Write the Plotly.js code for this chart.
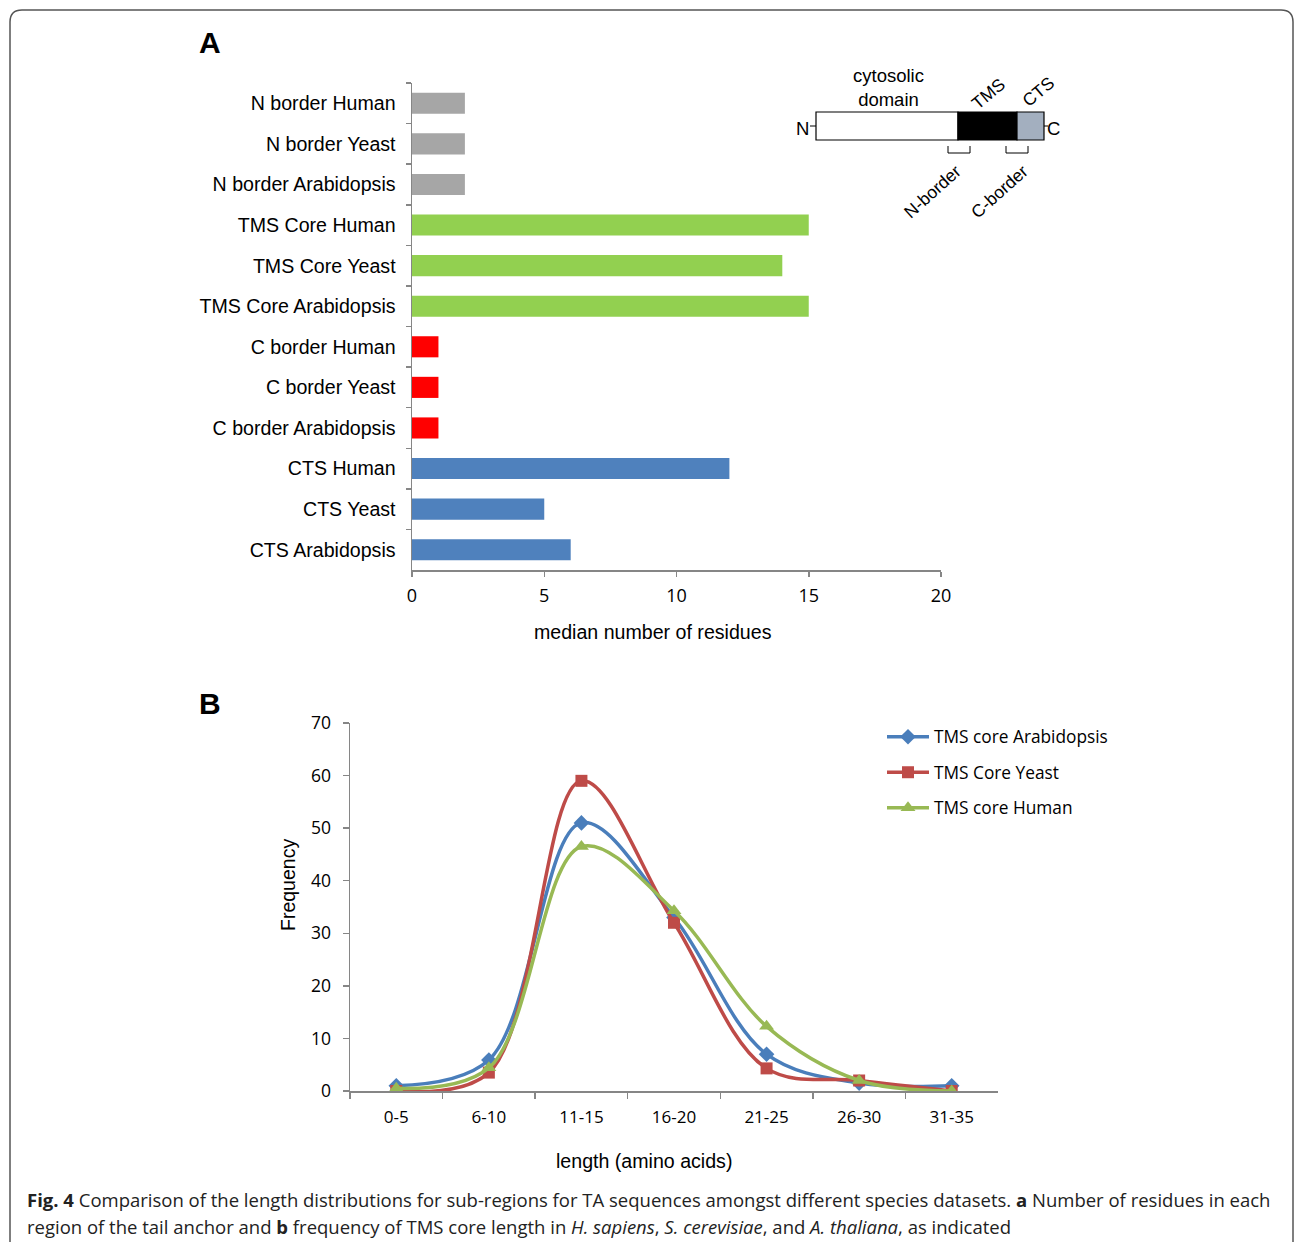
<!DOCTYPE html>
<html><head><meta charset="utf-8">
<script src="https://cdn.plot.ly/plotly-3.0.1.min.js"></script>
<style>body{margin:0;background:#fff}#chart{width:1295px;height:1242px}</style>
</head><body><div id="chart"></div>
<script>
// ---------- Panel A data ----------
const regionCategories = ["N border Human","N border Yeast","N border Arabidopsis",
  "TMS Core Human","TMS Core Yeast","TMS Core Arabidopsis",
  "C border Human","C border Yeast","C border Arabidopsis",
  "CTS Human","CTS Yeast","CTS Arabidopsis"];
const nBorderLabels = ["N border Human","N border Yeast","N border Arabidopsis"];
const nBorderValues = [2,2,2];
const tmsCoreLabels = ["TMS Core Human","TMS Core Yeast","TMS Core Arabidopsis"];
const tmsCoreValues = [15,14,15];
const cBorderLabels = ["C border Human","C border Yeast","C border Arabidopsis"];
const cBorderValues = [1,1,1];
const ctsLabels = ["CTS Human","CTS Yeast","CTS Arabidopsis"];
const ctsValues = [12,5,6];
const residueTicks = [0,5,10,15,20];

// ---------- Panel B data ----------
const lengthBins = ["0-5","6-10","11-15","16-20","21-25","26-30","31-35"];
const freqArabidopsis = [1,5.9,51,33,7,1.5,1];
const freqYeast = [0,3.5,59,32,4.3,2,0];
const freqHuman = [0.5,4.4,46.5,34.3,12.3,2,0];
const frequencyTicks = [0,10,20,30,40,50,60,70];

const W = 1295, H = 1242;
const px = x => x / W;
const py = y => 1 - y / H;
const AX = "#868686";
const FA = "Liberation Sans, Arial, sans-serif";
const FC = "Open Sans, sans-serif";

function bar(labels, vals, color) {
  return {type:"bar", orientation:"h", y:labels, x:vals, width:0.52,
    marker:{color:color}, xaxis:"x", yaxis:"y", showlegend:false, hoverinfo:"x+y"};
}
function line(vals, name, color, symbol, size, group) {
  return {type:"scatter", mode:"lines+markers", x:lengthBins, y:vals, name:name,
    line:{color:color, width:3.5, shape:"spline", smoothing:1},
    marker:{color:color, symbol:symbol, size:size},
    xaxis:"x2", yaxis:"y2", legendgroup:group};
}

const data = [
  bar(nBorderLabels, nBorderValues, "#a6a6a6"),
  bar(tmsCoreLabels, tmsCoreValues, "#92d050"),
  bar(cBorderLabels, cBorderValues, "#ff0000"),
  bar(ctsLabels, ctsValues, "#4f81bd"),
  line(freqArabidopsis, "TMS core Arabidopsis", "#4a7ebb", "diamond", 12, "a"),
  line(freqYeast, "TMS Core Yeast", "#be4b48", "square", 12, "b"),
  line(freqHuman, "TMS core Human", "#98b954", "triangle-up", 13, "c")
];

const shapes = [
  // outer rounded border
  {type:"path", xref:"paper", yref:"paper",
   path:`M ${px(10)} ${py(1260)} L ${px(10)} ${py(22)} Q ${px(10)} ${py(10)} ${px(22)} ${py(10)} L ${px(1281)} ${py(10)} Q ${px(1293)} ${py(10)} ${px(1293)} ${py(22)} L ${px(1293)} ${py(1260)}`,
   line:{color:"#555", width:1.5}},
  // protein diagram
  {type:"rect", xref:"paper", yref:"paper", x0:px(816), x1:px(958), y0:py(112), y1:py(140), fillcolor:"#fff", line:{color:"#000", width:1.2}},
  {type:"rect", xref:"paper", yref:"paper", x0:px(958), x1:px(1017), y0:py(112), y1:py(140), fillcolor:"#000", line:{color:"#000", width:1.2}},
  {type:"rect", xref:"paper", yref:"paper", x0:px(1017), x1:px(1044), y0:py(112), y1:py(140), fillcolor:"#a3afbf", line:{color:"#000", width:1.2}},
  {type:"line", xref:"paper", yref:"paper", x0:px(810), x1:px(816), y0:py(126), y1:py(126), line:{color:"#000", width:1}},
  {type:"line", xref:"paper", yref:"paper", x0:px(1044), x1:px(1048), y0:py(126), y1:py(126), line:{color:"#000", width:1}},
  {type:"path", xref:"paper", yref:"paper", path:`M ${px(948)} ${py(146)} L ${px(948)} ${py(153)} L ${px(970)} ${py(153)} L ${px(970)} ${py(146)}`, line:{color:"#000", width:1}},
  {type:"path", xref:"paper", yref:"paper", path:`M ${px(1006)} ${py(146)} L ${px(1006)} ${py(153)} L ${px(1028)} ${py(153)} L ${px(1028)} ${py(146)}`, line:{color:"#000", width:1}}
];

function ann(text, x, y, size, opts) {
  return Object.assign({xref:"paper", yref:"paper", x:px(x), y:py(y), text:text,
    showarrow:false, xanchor:"center", yanchor:"middle",
    font:{family:FA, size:size, color:"#000"}}, opts || {});
}

const annotations = [
  ann("<b>A</b>", 210, 42, 30),
  ann("<b>B</b>", 210, 703, 30),
  ann("median number of residues", 653, 632, 19.6),
  ann("length (amino acids)", 644, 1161, 19.6),
  ann("Frequency", 288, 885, 19.5, {textangle:-90}),
  ann("cytosolic<br>domain", 888, 88, 18.5),
  ann("N", 802, 128, 18.5),
  ann("C", 1053, 128, 18.5),
  ann("TMS", 988, 94, 17.5, {textangle:-40}),
  ann("CTS", 1038, 92, 17.5, {textangle:-40}),
  ann("N-border", 932, 192, 17.5, {textangle:-42}),
  ann("C-border", 999, 192, 17.5, {textangle:-42}),
  ann("<b>Fig. 4</b> Comparison of the length distributions for sub-regions for TA sequences amongst different species datasets. <b>a</b> Number of residues in each",
      25, 1199, 18.5, {xanchor:"left", font:{family:FC, size:18.5, color:"#222"}}),
  ann("region of the tail anchor and <b>b</b> frequency of TMS core length in <i>H. sapiens</i>, <i>S. cerevisiae</i>, and <i>A. thaliana</i>, as indicated",
      25, 1226, 18.5, {xanchor:"left", font:{family:FC, size:18.5, color:"#222"}})
];

const layout = {
  width: W, height: H,
  margin:{l:0, r:0, t:0, b:0},
  paper_bgcolor:"#fff", plot_bgcolor:"rgba(0,0,0,0)",
  barmode:"overlay",
  showlegend:true,
  legend:{x:px(882), y:py(719), xanchor:"left", yanchor:"top",
    font:{family:FC, size:17.3, color:"#000"}, itemwidth:42,
    traceorder:"grouped", tracegroupgap:10, bgcolor:"rgba(0,0,0,0)"},
  xaxis:{domain:[px(412), px(941)], anchor:"y", range:[0,20], tickvals:residueTicks,
    showgrid:false, zeroline:false, showline:true, linecolor:AX, linewidth:1.5,
    ticks:"outside", ticklen:5, tickcolor:AX, tickwidth:1.5, ticklabelstandoff:4,
    tickfont:{family:FC, size:18, color:"#000"}},
  yaxis:{domain:[py(570), py(83)], anchor:"x", type:"category",
    categoryorder:"array", categoryarray:regionCategories, autorange:"reversed",
    showgrid:false, zeroline:false, showline:true, linecolor:AX, linewidth:1.5,
    ticks:"outside", ticklen:5, tickcolor:AX, tickwidth:1.5, tickson:"boundaries",
    ticklabelstandoff:11,
    tickfont:{family:FA, size:19.6, color:"#000"}},
  xaxis2:{domain:[px(350), px(998)], anchor:"y2", type:"category",
    range:[-0.5,6.5], showgrid:false, zeroline:false, showline:true,
    linecolor:AX, linewidth:1.5, ticks:"outside", ticklen:6, tickcolor:AX, tickwidth:1.5,
    tickson:"boundaries", ticklabelstandoff:10,
    tickfont:{family:FC, size:17, color:"#000"}},
  yaxis2:{domain:[py(1091), py(723)], anchor:"x2", range:[0,70], tickvals:frequencyTicks,
    showgrid:false, zeroline:false, showline:true, linecolor:AX, linewidth:1.5,
    ticks:"outside", ticklen:6, tickcolor:AX, tickwidth:1.5, ticklabelstandoff:8,
    tickfont:{family:FC, size:17.5, color:"#000"}},
  shapes: shapes,
  annotations: annotations
};

Plotly.newPlot("chart", data, layout, {displayModeBar:false, staticPlot:true});
</script></body></html>
